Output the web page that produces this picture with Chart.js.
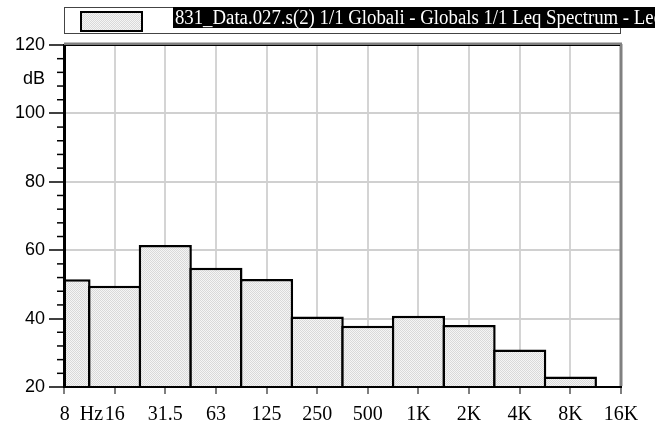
<!DOCTYPE html>
<html>
<head>
<meta charset="utf-8">
<script src="https://cdn.jsdelivr.net/npm/chart.js@4/dist/chart.umd.min.js"></script>
<style>
html,body{margin:0;padding:0;background:#fff;overflow:hidden;width:655px;height:422px}
#wrap{position:relative;width:655px;height:422px;overflow:hidden}
#chart{position:absolute;left:0;top:0}
#legend{position:absolute;left:64px;top:7px;width:557px;height:27px;border:1.5px solid #444;box-sizing:border-box;background:#fff}
#swatch{position:absolute;left:15px;top:3px;width:63px;height:21px;border:2px solid #000;box-sizing:border-box}
#ltext{position:absolute;left:108px;top:-1.5px;height:21px;line-height:21px;background:#000;color:#fff;font-family:"Liberation Serif","Times New Roman",serif;font-size:20px;white-space:nowrap;padding:0 2px;transform-origin:0 0;transform:scaleX(0.94)}
</style>
</head>
<body>
<div id="wrap">
  <canvas id="chart" width="655" height="422"></canvas>
  <div id="legend"><div id="swatch"></div><span id="ltext"></span></div>
</div>
<script>
// ---- data ----
const seriesName = '831_Data.027.s(2) 1/1 Globali - Globals 1/1 Leq Spectrum - Leq';
const categories = ['8 Hz', '16', '31.5', '63', '125', '250', '500', '1K', '2K', '4K', '8K', '16K'];
const levels = [51.5, 49.6, 61.5, 54.9, 51.6, 40.6, 37.9, 40.8, 38.1, 31.0, 23.1, null];
const yMajorTicks = [20, 40, 60, 80, 100, 120];
const yMinorTicks = [24, 28, 32, 36, 44, 48, 52, 56, 64, 68, 72, 76, 84, 88, 92, 96, 104, 108, 112, 116];
const yGridTicks = [40, 60, 80, 100];
const yUnitLabel = 'dB';
const yUnitValue = 110;

// ---- dotted fill pattern ----
const pc = document.createElement('canvas');
pc.width = 2; pc.height = 2;
const pctx = pc.getContext('2d');
pctx.fillStyle = '#f5f5f5'; pctx.fillRect(0, 0, 2, 2);
pctx.fillStyle = '#d9d9d9'; pctx.fillRect(0, 0, 1, 1); pctx.fillRect(1, 1, 1, 1);
const ctx0 = document.getElementById('chart').getContext('2d');
const fillPattern = ctx0.createPattern(pc, 'repeat');

document.getElementById('swatch').style.backgroundImage = 'url(' + pc.toDataURL() + ')';
document.getElementById('ltext').textContent = seriesName;

const framePlugin = {
  id: 'frame',
  afterDraw(chart) {
    const { ctx, chartArea: a, scales: { y } } = chart;
    ctx.save();
    ctx.strokeStyle = '#000';
    ctx.lineWidth = 1.5;
    yMinorTicks.forEach(v => {
      const py = y.getPixelForValue(v);
      ctx.beginPath(); ctx.moveTo(a.left - 7, py); ctx.lineTo(a.left, py); ctx.stroke();
    });
    ctx.strokeStyle = '#808080';
    ctx.lineWidth = 3;
    ctx.beginPath();
    ctx.moveTo(a.left, a.top - 1); ctx.lineTo(a.right + 1, a.top - 1);
    ctx.moveTo(a.right, a.top - 1); ctx.lineTo(a.right, a.bottom - 1);
    ctx.stroke();
    ctx.strokeStyle = '#000';
    ctx.lineWidth = 1;
    ctx.beginPath(); ctx.moveTo(a.left, a.top + 0.5); ctx.lineTo(a.right - 1, a.top + 0.5); ctx.stroke();
    ctx.restore();
  }
};

new Chart(ctx0, {
  type: 'bar',
  data: {
    labels: categories,
    datasets: [{
      label: seriesName,
      data: levels,
      backgroundColor: fillPattern,
      borderColor: '#000',
      borderWidth: 2.5,
      borderSkipped: false,
      barPercentage: 1.05,
      categoryPercentage: 1,
      clip: { left: 0, top: false, right: false, bottom: 1 }
    }]
  },
  options: {
    responsive: false,
    devicePixelRatio: 1,
    animation: false,
    layout: { padding: { top: 45, right: 34, left: 0, bottom: 0 } },
    plugins: { legend: { display: false }, tooltip: { enabled: false }, title: { display: false } },
    scales: {
      x: {
        type: 'category',
        offset: false,
        afterFit: s => { s.height = 35; },
        ticks: {
          autoSkip: false, maxRotation: 0, minRotation: 0, padding: 9,
          color: '#000',
          font: { family: 'Liberation Serif', size: 20 },
          callback: (v, i) => i === 0 ? '       8  Hz' : categories[i]
        },
        grid: { offset: false, color: '#d4d4d4', lineWidth: 2, tickLength: 7, tickColor: '#555', tickWidth: 1.5 },
        border: { color: '#000', width: 2, z: 1 }
      },
      y: {
        min: 20, max: 120,
        beginAtZero: false,
        afterBuildTicks: s => {
          s.ticks = yMajorTicks.concat([yUnitValue]).sort((a, b) => a - b).map(v => ({ value: v }));
        },
        afterFit: s => { s.width = 64; },
        ticks: {
          autoSkip: false, padding: 4, color: '#000',
          font: { family: 'Liberation Sans', size: 18 },
          callback: v => v === yUnitValue ? yUnitLabel : String(v)
        },
        grid: {
          color: c => (c.tick && yGridTicks.includes(c.tick.value)) ? '#d0d0d0' : 'rgba(0,0,0,0)',
          lineWidth: 2,
          tickLength: 15,
          tickColor: c => (c.tick && c.tick.value === yUnitValue) ? 'rgba(0,0,0,0)' : '#000',
          tickWidth: 1.5
        },
        border: { color: '#000', width: 3, z: 1 }
      }
    }
  },
  plugins: [framePlugin]
});
</script>
</body>
</html>
